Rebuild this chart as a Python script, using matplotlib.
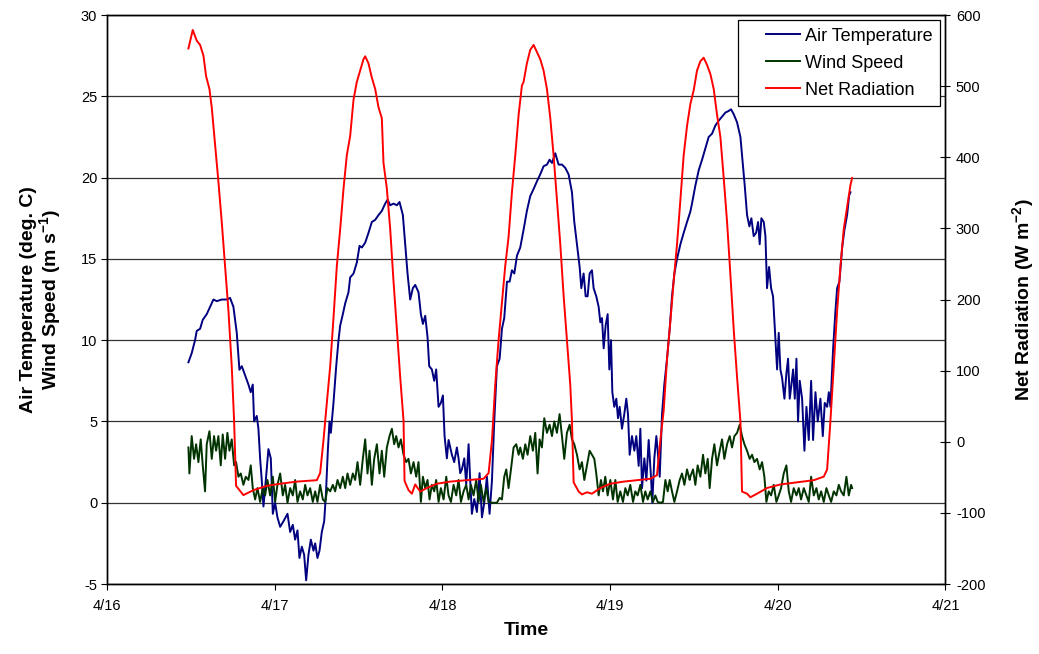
import pandas as pd
import matplotlib
matplotlib.use("Agg")
import matplotlib.pyplot as plt
import matplotlib.dates as mdates
from matplotlib.ticker import FuncFormatter
from matplotlib.lines import Line2D
from matplotlib.legend_handler import HandlerLine2D

plt.rcParams['font.family'] = ['Liberation Sans', 'DejaVu Sans']
plt.rcParams['mathtext.fontset'] = 'custom'
plt.rcParams['mathtext.rm'] = 'Liberation Sans'
plt.rcParams['mathtext.bf'] = 'Liberation Sans:bold'
plt.rcParams['axes.unicode_minus'] = False

start = pd.Timestamp('2006-04-16')

# hours after midnight 4/16
rad_hours = [11.65, 12.27, 12.84, 13.32, 13.80, 14.18, 14.66, 14.99, 15.47, 15.94,
             16.42, 16.90, 17.38, 17.85, 18.19, 18.47, 19.52, 20.96, 22.87, 24.78,
             27.16, 30.03, 30.50, 30.98, 31.46, 31.94, 32.41, 32.89, 33.37, 33.85,
             34.32, 34.80, 35.28, 35.75, 36.23, 36.71, 36.95, 37.42, 37.90, 38.38,
             38.86, 39.33, 39.57, 40.05, 40.53, 41.00, 41.48, 41.96, 42.44, 42.58,
             43.15, 43.63, 44.11, 44.82, 45.78, 47.21, 49.12, 51.51, 53.89, 54.61,
             55.09, 55.56, 56.04, 56.52, 56.99, 57.47, 57.95, 58.43, 58.91, 59.38,
             59.62, 60.09, 60.57, 61.05, 61.53, 62.00, 62.48, 62.96, 63.44, 63.91,
             64.39, 64.87, 65.35, 65.82, 66.30, 66.54, 66.78, 67.50, 67.97, 68.69,
             69.40, 70.60, 72.03, 73.94, 75.85, 77.76, 78.71, 79.19, 79.67, 80.15,
             80.62, 81.10, 81.58, 82.06, 82.53, 83.01, 83.49, 83.96, 84.44, 84.92,
             85.39, 85.87, 86.35, 86.83, 87.30, 87.78, 88.26, 88.74, 89.21, 89.69,
             90.17, 90.65, 90.88, 91.60, 92.08, 93.03, 94.46, 96.37, 98.76, 101.15,
             102.58, 103.06, 103.53, 104.01, 104.49, 104.97, 105.44, 105.92, 106.40, 106.64]
net_rad = [553, 579, 564, 558, 543, 514, 496, 470, 418, 366,
           309, 247, 184, 106, 29, -62, -75, -68, -62, -59,
           -56, -54, -44, 2, 55, 106, 174, 247, 299, 356,
           403, 430, 481, 506, 522, 538, 542, 532, 512, 496,
           470, 455, 392, 356, 299, 226, 158, 91, 29, -55,
           -68, -73, -60, -70, -65, -59, -56, -54, -52, -44,
           2, 80, 143, 195, 247, 288, 351, 403, 460, 501,
           506, 532, 551, 558, 548, 538, 522, 496, 455, 403,
           340, 278, 205, 143, 80, 29, -57, -70, -74, -71,
           -73, -65, -59, -56, -54, -52, -47, 2, 44, 117,
           169, 226, 278, 340, 403, 444, 475, 494, 522, 535,
           540, 530, 517, 496, 460, 429, 371, 309, 236, 158,
           91, 29, -70, -73, -78, -73, -65, -60, -57, -54,
           -49, -39, 29, 106, 184, 247, 299, 330, 361, 371]

temp_hours = [11.65, 12.12, 12.60, 12.84, 13.32, 13.70, 14.27, 14.75, 15.23, 15.71,
              16.42, 17.14, 17.61, 18.09, 18.57, 18.95, 19.29, 19.76, 20.24, 20.57,
              20.86, 21.05, 21.43, 21.67, 21.91, 22.15, 22.39, 22.72, 23.10, 23.44,
              23.73, 24.06, 24.39, 24.78, 25.25, 25.83, 26.21, 26.59, 26.92, 27.26,
              27.54, 27.88, 28.21, 28.50, 28.83, 29.17, 29.55, 29.79, 30.12, 30.41,
              30.74, 31.08, 31.32, 31.60, 31.84, 32.03, 32.41, 32.80, 33.13, 33.37,
              33.75, 34.09, 34.56,
              34.80, 35.28, 35.75, 36.14, 36.47, 36.95, 37.42, 37.90, 38.38, 38.86,
              39.33, 39.81, 40.15, 40.53, 41.00, 41.48, 41.86, 42.34, 42.67, 43.01,
              43.39, 43.77, 44.11, 44.58, 44.92, 45.21, 45.54, 45.87, 46.11, 46.49,
              46.83, 47.11, 47.45, 47.78, 48.07, 48.31, 48.64, 48.88, 49.36, 49.69,
              50.07, 50.31, 50.55, 50.79, 51.13, 51.41, 51.75, 51.98, 52.22, 52.56,
              52.94, 53.32, 53.66, 53.99, 54.37, 54.75, 55.09, 55.42, 55.80, 56.19,
              56.52, 56.85, 57.24, 57.62, 57.95, 58.29, 58.67,
              59.14, 59.62, 60.09, 60.57, 61.05, 61.53, 62.00, 62.48, 62.96, 63.34,
              63.68, 64.15, 64.63, 65.11, 65.58, 66.06, 66.54, 66.87, 67.26, 67.64,
              67.88, 68.21, 68.50, 68.78, 69.07, 69.40, 69.64, 70.02, 70.36, 70.60,
              70.84, 71.08, 71.36, 71.65, 71.89, 72.13, 72.32, 72.60, 72.89, 73.13,
              73.37, 73.70, 74.03, 74.32, 74.56, 74.80, 75.13, 75.47, 75.75, 76.09,
              76.33, 76.57, 76.90, 77.19, 77.52, 77.85, 78.04, 78.33, 78.62, 78.81,
              79.10, 79.43, 79.76, 80.15, 80.53, 80.86, 81.20, 81.58, 82.06, 82.53,
              83.01,
              83.48, 83.72, 84.20, 84.68, 85.16, 85.63, 86.11, 86.59, 87.06, 87.54,
              88.02, 88.50, 88.97, 89.31, 89.69, 90.17, 90.65, 90.98, 91.27, 91.60,
              91.93, 92.22, 92.55, 92.89, 93.18, 93.41, 93.65, 93.99, 94.23, 94.46,
              94.75, 95.04, 95.32, 95.66, 95.90, 96.13, 96.37, 96.61, 96.95, 97.23,
              97.47, 97.71, 97.95, 98.19, 98.43, 98.67, 98.90, 99.14, 99.48, 99.81,
              100.10, 100.43, 100.77, 101.05, 101.39, 101.72, 102.10, 102.44, 102.72, 103.06,
              103.30, 103.53, 103.92, 104.25, 104.49, 104.82, 105.21, 105.54, 105.92, 106.21,
              106.40]
air_temp = [8.64, 9.2, 10.0, 10.57, 10.7, 11.25, 11.6, 12.05, 12.5, 12.4,
            12.5, 12.5, 12.6, 12.05, 10.45, 8.18, 8.4, 7.84, 7.27, 6.8,
            7.27, 5.0, 5.34, 4.55, 2.73, 1.36, -0.23, 1.36, 3.3, 2.73,
            -0.68, 0.0, -0.9, -1.48, -1.14, -0.68, -1.8, -1.36, -2.27, -1.7,
            -3.4, -2.7, -3.2, -4.77, -3.2, -2.27, -2.95, -2.5, -3.4, -2.95,
            -1.8, -1.14, 0.45, 3.18, 5.0, 4.3, 6.14, 8.4, 10.0, 10.9,
            11.6, 12.27, 12.95,
            13.86, 14.1, 14.77, 15.8, 15.7, 16.0, 16.6, 17.27, 17.4, 17.7,
            17.95, 18.4, 18.64, 18.3, 18.4, 18.3, 18.5, 17.7, 15.9, 14.1,
            12.5, 13.2, 13.4, 12.95, 11.6, 11.0, 11.5, 10.2, 8.4, 8.2,
            7.5, 8.2, 5.9, 6.14, 6.6, 4.1, 2.73, 3.86, 2.95, 2.5,
            3.4, 2.73, 1.82, 2.05, 2.73, 1.14, 3.6, 1.36, -0.68, 0.23,
            -0.57, 1.82, -0.9, 0.0, 1.6, -0.68, 1.36, 5.0, 8.4, 8.86,
            10.7, 11.36, 13.6, 13.6, 14.3, 14.1, 15.2,
            15.7, 16.8, 17.95, 18.86, 19.3, 19.77, 20.2, 20.7, 20.8, 21.1,
            20.9, 21.5, 20.8, 20.8, 20.6, 20.2, 19.1, 17.3, 15.9, 14.5,
            13.2, 14.1, 12.7, 12.7, 14.1, 14.3, 13.2, 12.7, 12.05, 11.1,
            11.36, 9.5, 10.9, 11.6, 8.2, 10.0, 6.8, 5.9, 6.4, 5.2,
            5.9, 4.55, 5.45, 6.4, 5.45, 2.95, 4.1, 3.2, 4.1, 2.27,
            4.55, 0.9, 2.73, 1.36, 3.86, 1.6, 0.0, 2.73, 4.1, 3.2,
            1.6, 5.45, 7.27, 8.86, 10.7, 12.7, 14.1, 15.0, 15.9, 16.6,
            17.27,
            17.9, 18.4, 19.5, 20.45, 21.1, 21.8, 22.5, 22.7, 23.2, 23.5,
            23.75, 24.0, 24.1, 24.2, 23.9, 23.4, 22.5, 20.9, 19.5, 17.7,
            17.0, 17.5, 16.4, 16.6, 17.27, 15.9, 17.5, 17.27, 16.4, 13.2,
            14.5, 13.2, 12.7, 10.0, 8.2, 10.45, 8.2, 7.7, 6.4, 7.95,
            8.86, 6.4, 7.27, 8.2, 6.4, 8.86, 5.0, 7.5, 6.4, 3.2,
            5.9, 3.86, 7.5, 3.86, 6.8, 5.0, 6.4, 4.1, 6.14, 5.9,
            6.8, 5.9, 9.5, 11.8, 13.2, 13.6, 15.7, 16.8, 17.7, 18.9,
            19.1]

wind_hours = [11.65, 11.79, 12.12, 12.46, 12.75, 13.08, 13.41, 13.70, 14.03, 14.27,
              14.66, 14.99, 15.32, 15.61, 15.94, 16.28, 16.56, 16.90, 17.23, 17.52,
              17.85, 18.19, 18.47, 18.81, 19.14, 19.52, 19.86, 20.24, 20.57, 20.86,
              21.20, 21.53, 21.91, 22.29, 22.63, 22.96, 23.34, 23.73, 24.06, 24.39,
              24.78, 25.16, 25.49, 25.83, 26.21, 26.59, 26.92, 27.26, 27.64, 28.02,
              28.36, 28.69, 29.07, 29.45, 29.79, 30.12, 30.50, 30.89, 31.22, 31.55,
              31.94, 32.32, 32.65, 32.99, 33.37, 33.75, 34.09, 34.42,
              34.80, 35.18, 35.51, 35.85, 36.23, 36.61, 36.95, 37.28, 37.57, 37.90,
              38.24, 38.62, 39.00, 39.33, 39.67, 40.05, 40.43, 40.77, 41.10, 41.39,
              41.72, 42.05, 42.44, 42.82, 43.15, 43.49, 43.87, 44.25, 44.58, 44.92,
              45.21, 45.54, 45.87, 46.16, 46.49, 46.83, 47.11, 47.45, 47.78, 48.17,
              48.55, 48.88, 49.22, 49.60, 49.98, 50.31, 50.65, 51.03, 51.41, 51.75,
              52.08, 52.46, 52.84, 53.18, 53.51, 53.89, 54.28, 54.61, 55.09, 55.80,
              56.19, 56.52, 56.85, 57.14, 57.47, 57.81, 58.19, 58.57, 58.91,
              59.14, 59.52, 59.86, 60.19, 60.57, 60.95, 61.29, 61.62, 61.91, 62.24,
              62.58, 62.96, 63.34, 63.68, 64.01, 64.39, 64.77, 65.11, 65.44, 65.82,
              66.21, 66.54, 66.87, 67.26, 67.64, 67.97, 68.31, 68.69, 69.07, 69.40,
              69.74, 70.02, 70.36, 70.69, 70.98, 71.31, 71.65, 72.03, 72.41, 72.75,
              73.08, 73.46, 73.84, 74.18, 74.51, 74.89, 75.28, 75.61, 75.94, 76.33,
              76.71, 77.04, 77.38, 77.76, 78.14, 78.47, 78.81, 79.19, 79.57, 79.91,
              80.24, 80.53, 80.86, 81.20, 81.58, 81.96, 82.29, 82.63, 83.01, 83.39,
              83.48, 83.87, 84.20, 84.53, 84.92, 85.30, 85.63, 85.97, 86.25, 86.59,
              86.92, 87.30, 87.69, 88.02, 88.35, 88.74, 89.12, 89.45, 89.79, 90.17,
              90.55, 90.88, 91.22, 91.60, 91.98, 92.32, 92.65, 93.03, 93.41, 93.75,
              94.08, 94.37, 94.70, 95.04, 95.42, 95.80, 96.13, 96.47, 96.85, 97.23,
              97.57, 97.90, 98.28, 98.67, 99.00, 99.33, 99.72, 100.10, 100.43, 100.77,
              101.15, 101.53, 101.86, 102.20, 102.58, 102.96, 103.30, 103.63, 104.01, 104.39,
              104.73, 105.06, 105.44, 105.82, 106.16, 106.49, 106.64]
wind_speed = [3.4, 1.8, 4.1, 2.7, 3.6, 2.5, 3.9, 2.3, 0.7, 3.6,
              4.4, 2.7, 4.1, 3.2, 4.1, 2.3, 4.2, 2.7, 4.3, 3.2,
              3.9, 2.3, 2.5, 1.6, 1.8, 1.1, 1.6, 1.4, 2.3, 0.9,
              0.2, 0.9, 0.05, 0.9, 0.45, 1.4, 0.45, 1.6, 0.05, 1.1,
              1.8, 0.45, 1.1, 0.0, 0.9, 0.45, 1.4, 0.05, 0.7, 0.2,
              1.1, 0.45, 0.9, 0.05, 0.7, 0.05, 1.1, 0.2, 0.05, 0.9,
              0.7, 1.1, 0.7, 1.4, 0.9, 1.6, 0.9, 1.8,
              1.1, 1.8, 1.4, 2.5, 1.1, 2.7, 3.9, 1.8, 3.2, 1.1,
              2.7, 3.6, 1.8, 3.2, 1.6, 3.4, 4.1, 4.55, 3.6, 4.1,
              3.4, 3.9, 2.95, 2.5, 2.7, 1.8, 2.5, 1.6, 2.5, 0.05,
              1.6, 0.9, 1.4, 0.2, 1.1, 0.7, 1.4, 0.05, 0.9, 0.2,
              1.6, 0.45, 0.05, 1.1, 0.45, 1.4, 0.05, 0.7, 1.1, 0.2,
              1.1, 0.45, 1.4, 0.05, 1.1, 0.05, 0.9, 0.05, 0.0, 0.0,
              0.3, 0.2, 1.6, 2.05, 0.9, 2.05, 3.4, 3.6, 2.95,
              3.4, 2.7, 3.6, 2.95, 4.1, 3.2, 4.3, 1.8, 3.9, 3.4,
              5.2, 4.3, 4.8, 4.1, 5.0, 4.3, 5.45, 4.1, 2.7, 4.3,
              4.8, 3.9, 3.6, 2.95, 2.05, 2.5, 1.4, 2.3, 3.2, 2.95,
              2.7, 1.8, 0.45, 1.4, 0.7, 1.6, 0.45, 1.4, 0.2, 1.4,
              0.05, 0.7, 0.05, 0.9, 0.45, 1.1, 0.05, 0.7, 0.45, 1.1,
              0.05, 0.7, 0.2, 0.7, 0.05, 0.45, 0.05, 0.0, 0.05, 1.4,
              0.7, 1.4, 0.7, 0.05, 0.7, 1.4, 1.8, 1.1, 2.05, 1.4,
              1.6, 2.05, 1.1, 2.3, 1.6, 2.95, 1.8, 2.7, 0.9, 2.7,
              3.6, 2.3, 3.2, 3.9, 2.7, 3.6, 4.1, 3.4, 4.1, 4.3,
              4.8, 4.1, 3.6, 3.2, 2.7, 2.95, 2.5, 2.7, 2.05, 2.5,
              1.6, 0.05, 0.7, 0.45, 1.1, 0.05, 0.45, 0.9, 1.8, 2.3,
              0.7, 0.05, 0.9, 0.45, 0.9, 0.2, 0.9, 0.45, 0.05, 1.6,
              0.45, 0.9, 0.2, 0.7, 0.05, 0.9, 0.45, 0.05, 0.7, 0.45,
              1.1, 0.7, 0.45, 1.6, 0.45, 1.1, 0.9]


def to_time(hours):
    return start + pd.to_timedelta(hours, unit='h')


fig = plt.figure(figsize=(10.39, 6.54), dpi=100)
ax = fig.add_axes([0.103, 0.107, 0.807, 0.870])
ax2 = ax.twinx()

l1, = ax.plot(to_time(temp_hours), air_temp, color='#000080', lw=1.4, label='Air Temperature')
l2, = ax.plot(to_time(wind_hours), wind_speed, color='#003300', lw=1.4, label='Wind Speed')
l3, = ax2.plot(to_time(rad_hours), net_rad, color='#ff0000', lw=1.4, label='Net Radiation')

ax.set_xlim(start, start + pd.Timedelta(days=5))
ax.set_ylim(-5, 30)
ax.set_yticks(range(-5, 31, 5))
ax2.set_ylim(-200, 600)
ax2.set_yticks(range(-200, 601, 100))

ax.xaxis.set_major_locator(mdates.DayLocator())
ax.xaxis.set_major_formatter(FuncFormatter(
    lambda x, p: f"{mdates.num2date(x).month}/{mdates.num2date(x).day}"))

ax.yaxis.grid(True, color='#333333', lw=0.9)
ax.set_axisbelow(True)

for a in (ax, ax2):
    for s in a.spines.values():
        s.set_linewidth(1.0)
        s.set_color('black')
ax.tick_params(axis='y', direction='out', length=4, labelsize=10.5, pad=3)
ax.tick_params(axis='x', direction='out', length=4, labelsize=10.5, pad=7)
ax2.tick_params(axis='y', direction='inout', length=7, labelsize=10.5, pad=4)

ax.set_xlabel('Time', fontsize=14, fontweight='bold', labelpad=6)
ax.set_ylabel('Air Temperature (deg. C)\nWind Speed (m s$^{\\mathbf{-1}}$)',
              fontsize=14, fontweight='bold', labelpad=12, linespacing=1.05)
ax2.set_ylabel('Net Radiation (W m$^{\\mathbf{-2}}$)', fontsize=14,
               fontweight='bold', labelpad=18)

# short legend lines with some empty room in front of them
leg = ax2.legend(handles=[l1, l2, l3], loc='upper right', fontsize=13,
                 frameon=True, fancybox=False, borderaxespad=0.3,
                 handlelength=3.0, handletextpad=0.3, labelspacing=0.55,
                 borderpad=0.4, handler_map={Line2D: HandlerLine2D(xpad=1.1)})
leg.get_frame().set_edgecolor('black')
leg.get_frame().set_linewidth(0.9)
leg.get_frame().set_alpha(1)

fig.savefig('out.png', dpi=100)
